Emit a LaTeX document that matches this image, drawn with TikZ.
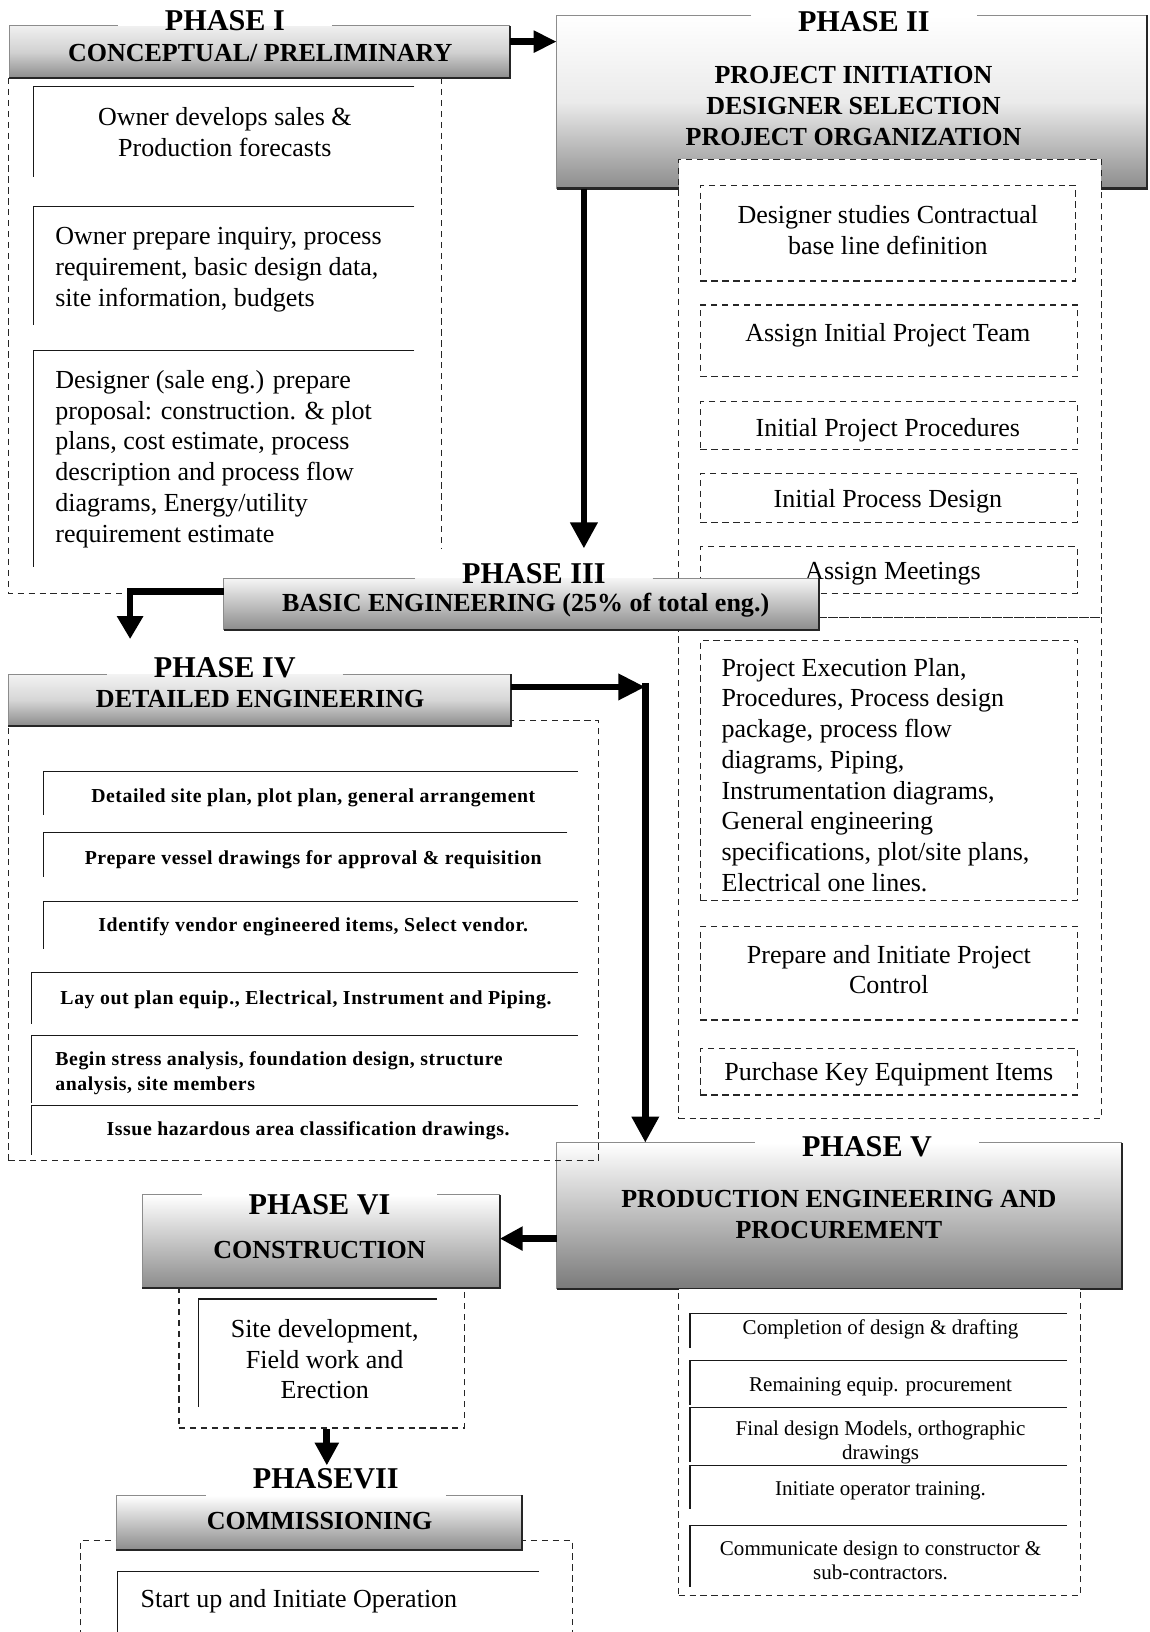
\documentclass[tikz,border=0pt]{standalone}
\usepackage{fontspec}
\setmainfont{Liberation Serif}
\newfontfamily\widebold[LetterSpace=3.0]{Liberation Serif}
\usetikzlibrary{arrows.meta}
% frame of a phase header: thin top/left rule with a gap for the title, heavy bottom/right edge
\newcommand{\hdrframe}[2]{%
  \draw[hline] (#2.west |- #1.north) -- (#1.north west) -- (#1.south west);
  \draw[hline] (#2.east |- #1.north) -- (#1.north east);
  \draw[hedge] (#1.south west) -- (#1.south east) -- (#1.north east);}
\begin{document}
\begin{tikzpicture}[x=1pt,y=-1pt,
  dsh/.style={line width=1.1pt, dash pattern=on 6pt off 4.5pt, black!85},
  cont/.style={rectangle, draw, dsh, inner sep=0pt},
  ln/.style={line width=1.1pt, black!90},
  hdr/.style={rectangle, draw=none, inner sep=0pt,
              top color=white, middle color=black!10, bottom color=black!45},
  hline/.style={line width=0.7pt, black!45},
  hedge/.style={line width=2.2pt, black!85},
  flow/.style={line width=6.5pt, black, -{Triangle[length=25pt,width=25pt]}},
  ttl/.style={font=\fontsize{29}{32}\selectfont\bfseries, inner xsep=45pt, inner ysep=2pt},
  sub/.style={font=\fontsize{25}{29.5}\selectfont\bfseries, align=center, inner sep=0pt},
  body/.style={font=\fontsize{25}{29.5}\selectfont, inner sep=0pt},
  bb/.style={font=\widebold\bfseries\fontsize{19}{24}\selectfont, inner sep=0pt},
  sm/.style={font=\fontsize{20.2}{23}\selectfont, inner sep=0pt, align=center},
]
\useasboundingbox (0,0) rectangle (1104,1568);

% ---------------- Phase I ----------------
\draw[dsh] (424,75) -- (424,527);
\draw[dsh] (8,75) -- (8,570) -- (216,570);
\draw[ln] (398,83) -- (32,83) -- (32,170);
\draw[ln] (398,198) -- (32,198) -- (32,312);
\draw[ln] (398,337) -- (32,337) -- (32,545);
\node[body, align=center] (p1a) at (216,127) {Owner develops sales \&\\Production forecasts};
\node[body, align=left, anchor=west] (p1b) at (53,259) {Owner prepare inquiry, process\\requirement, basic design data,\\site information, budgets};
\node[body, align=left, anchor=west] (p1c) at (53,441) {Designer (sale eng.) prepare\\proposal: construction. \& plot\\plans, cost estimate, process\\description and process flow\\diagrams, Energy/utility\\requirement estimate};
\node[hdr, top color=black!6, middle color=black!18, minimum width=481pt, minimum height=50pt] (h1) at (249.5,50) {};
\node[ttl] (t1) at (216,20) {PHASE I};
\hdrframe{h1}{t1}
\node[sub] (s1) at (250,51) {CONCEPTUAL/ PRELIMINARY};

% ---------------- Phase II ----------------
\node[hdr, middle color=black!8, minimum width=567pt, minimum height=166pt] (h2) at (818.5,98) {};
\node[ttl] (t2) at (830,21) {PHASE II};
\hdrframe{h2}{t2}
\node[sub] (s2) at (820,102) {PROJECT INITIATION\\DESIGNER SELECTION\\PROJECT ORGANIZATION};
\node[cont, fill=white, minimum width=406pt, minimum height=440pt] (c2) at (855,373) {};
\node[cont, minimum width=360pt, minimum height=92pt] (b2a) at (853,224) {};
\node[cont, minimum width=362pt, minimum height=69pt] (b2b) at (854,327.5) {};
\node[cont, minimum width=362pt, minimum height=46pt] (b2c) at (854,409) {};
\node[cont, minimum width=362pt, minimum height=47pt] (b2d) at (854,478.5) {};
\node[cont, minimum width=362pt, minimum height=45pt] (b2e) at (854,547.5) {};
\node[body, align=center] (q2a) at (853,221) {Designer studies Contractual\\base line definition};
\node[body] (q2b) at (853,322) {Assign Initial Project Team};
\node[body] (q2c) at (853,413) {Initial Project Procedures};
\node[body] (q2d) at (853,482) {Initial Process Design};
\node[body] (q2e) at (858,551) {Assign Meetings};

% ---------------- Phase III ----------------
\node[cont, minimum width=406pt, minimum height=482pt] (c3) at (855,834) {};
\node[cont, minimum width=362pt, minimum height=250pt] (b3a) at (854,740) {};
\node[cont, minimum width=362pt, minimum height=90pt] (b3b) at (854,935) {};
\node[cont, minimum width=362pt, minimum height=45pt] (b3c) at (854,1029.5) {};
\node[body, align=left, anchor=west] (q3a) at (693,744.5) {Project Execution Plan,\\Procedures, Process design\\package, process flow\\diagrams, Piping,\\Instrumentation diagrams,\\General engineering\\specifications, plot/site plans,\\Electrical one lines.};
\node[body, align=center] (q3b) at (854,931.5) {Prepare and Initiate Project\\Control};
\node[body] (q3c) at (854,1032) {Purchase Key Equipment Items};
\node[hdr, top color=black!4, minimum width=572pt, minimum height=49pt] (h3) at (501,580.5) {};
\node[ttl] (t3) at (513,551) {PHASE III};
\hdrframe{h3}{t3}
\node[sub] (s3) at (505,581) {BASIC ENGINEERING (25\% of total eng.)};

% ---------------- Phase V ----------------
\node[hdr, middle color=black!14, bottom color=black!52, minimum width=543pt, minimum height=140pt] (h5) at (806.5,1168) {};
\node[ttl] (t5) at (833,1102) {PHASE V};
\hdrframe{h5}{t5}
\node[sub] (s5) at (806,1167) {PRODUCTION ENGINEERING AND\\PROCUREMENT};
\node[cont, fill=white, minimum width=386pt, minimum height=295pt] (c5) at (845,1385.5) {};
\draw[ln] (1025,1262) -- (663,1262) -- (663,1295);
\draw[ln] (1025,1307) -- (663,1307) -- (663,1350);
\draw[ln] (1025,1352) -- (663,1352) -- (663,1405);
\draw[ln] (1025,1408) -- (663,1408) -- (663,1450);
\draw[ln] (1025,1466) -- (663,1466) -- (663,1525);
\node[sm] (q5a) at (846,1277) {Completion of design \& drafting};
\node[sm] (q5b) at (846,1332) {Remaining equip. procurement};
\node[sm] (q5c) at (846,1386) {Final design Models, orthographic\\drawings};
\node[sm] (q5d) at (846,1432) {Initiate operator training.};
\node[sm] (q5e) at (846,1499) {Communicate design to constructor \&\\sub-contractors.};

% ---------------- Phase IV ----------------
\node[cont, minimum width=567pt, minimum height=423pt] (c4) at (291.5,903.5) {};
\draw[ln] (555,741) -- (42,741) -- (42,783);
\draw[ln] (545,800) -- (42,800) -- (42,843);
\draw[ln] (555,866) -- (42,866) -- (42,912);
\draw[ln] (555,934) -- (30,934) -- (30,984);
\draw[ln] (555,995) -- (30,995) -- (30,1060);
\draw[ln] (555,1062) -- (30,1062) -- (30,1110);
\node[bb] (q4a) at (301,767) {Detailed site plan, plot plan, general arrangement};
\node[bb] (q4b) at (301,826) {Prepare vessel drawings for approval \& requisition};
\node[bb] (q4c) at (301,890) {Identify vendor engineered items, Select vendor.};
\node[bb] (q4d) at (294,961) {Lay out plan equip., Electrical, Instrument and Piping.};
\node[bb, align=left, anchor=west] (q4e) at (53,1031) {Begin stress analysis, foundation design, structure\\analysis, site members};
\node[bb] (q4f) at (296,1086) {Issue hazardous area classification drawings.};
\node[hdr, top color=black!5, middle color=black!16, minimum width=483pt, minimum height=49pt] (h4) at (249.5,672.5) {};
\node[ttl] (t4) at (216,642) {PHASE IV};
\hdrframe{h4}{t4}
\node[sub] (s4) at (250,672) {DETAILED ENGINEERING};

% ---------------- Phase VI ----------------
\node[cont, minimum width=274pt, minimum height=135pt] (c6) at (309,1304.5) {};
\draw[ln] (420,1248) -- (191,1248) -- (191,1352);
\node[body, align=center] (q6) at (312,1306) {Site development,\\Field work and\\Erection};
\node[hdr, minimum width=343pt, minimum height=89pt] (h6) at (308.5,1192.5) {};
\node[ttl] (t6) at (307,1157) {PHASE VI};
\hdrframe{h6}{t6}
\node[sub] (s6) at (307,1201) {CONSTRUCTION};

% ---------------- Phase VII ----------------
\draw[dsh] (77,1572) -- (77,1480) -- (550,1480) -- (550,1572);
\draw[ln] (518,1510) -- (113,1510) -- (113,1572);
\node[body, anchor=west] (q7) at (135,1538) {Start up and Initiate Operation};
\node[hdr, minimum width=389pt, minimum height=52pt] (h7) at (306.5,1463) {};
\node[ttl] (t7) at (313,1421) {PHASEVII};
\hdrframe{h7}{t7}
\node[sub] (s7) at (307,1461) {COMMISSIONING};

% ---------------- flow arrows ----------------
\coordinate (k1) at (0,40);
\draw[flow, -{Triangle[length=22pt,width=20pt]}] (h1.east |- k1) -- (h2.west |- k1);
\coordinate (k2) at (561,0);
\coordinate (e2) at (561,527);
\draw[flow] (k2 |- h2.south) -- (e2);
\coordinate (k3) at (125,568);
\coordinate (e3) at (125,614);
\draw[flow, -{Triangle[length=22pt,width=24pt]}] (h3.west |- k3) -- (k3) -- (e3);
\coordinate (k4) at (620,660);
\draw[flow, -{Triangle[length=26pt,width=24pt]}] (h4.east |- k4) -- (k4);
\draw[flow, line width=7pt] ([yshift=4pt]k4) -- (k4 |- h5.north);
\coordinate (k5) at (0,1190);
\draw[flow, -{Triangle[length=22pt,width=22pt]}] (h5.west |- k5) -- (h6.east |- k5);
\coordinate (k6) at (314,1373);
\coordinate (e6) at (314,1408);
\draw[flow, -{Triangle[length=22pt,width=22pt]}] (k6) -- (e6);
\end{tikzpicture}
\end{document}
